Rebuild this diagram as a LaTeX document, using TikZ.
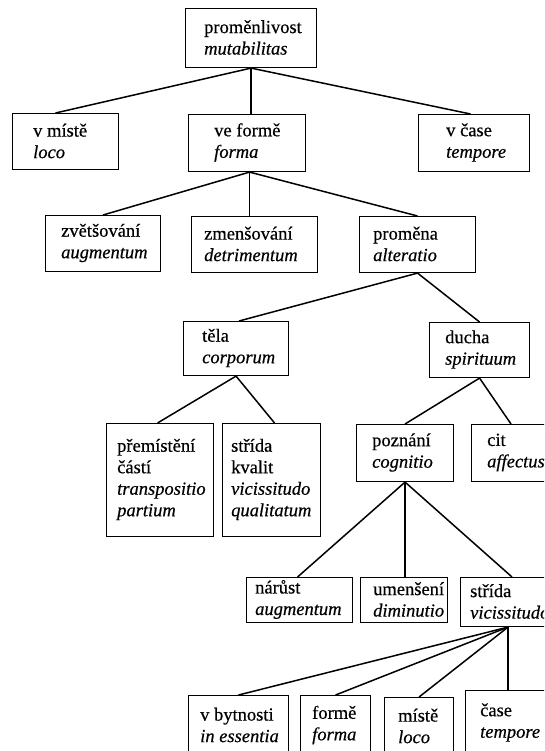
\documentclass[tikz,border=0pt]{standalone}
\usepackage{fontspec}
\setmainfont{Liberation Serif}[FakeBold=0.5]
\usetikzlibrary{calc}
\tikzset{
  bx/.style={draw, line width=1.1pt, anchor=north west, inner sep=0pt},
  txt/.style={anchor=west, align=left, inner sep=0pt, font=\fontsize{18.5}{21.5}\selectfont},
  con/.style={line width=1.5pt},
}
\begin{document}
\begin{tikzpicture}[x=1pt,y=-1pt]
\useasboundingbox (0,0) rectangle (544,751);
\clip (0,0) rectangle (544,751);
% boxes
\node[bx, minimum width=131pt, minimum height=59pt] (top) at (185,8) {};
\node[txt] (topt) at (204,37.5) {proměnlivost\\\textit{mutabilitas}};
\node[bx, minimum width=106pt, minimum height=56pt] (loco) at (12,113) {};
\node[txt] (locot) at (33,141) {v místě\\\textit{loco}};
\node[bx, minimum width=117pt, minimum height=57pt] (forma) at (188,114) {};
\node[txt] (format) at (214,142.5) {ve formě\\\textit{forma}};
\node[bx, minimum width=111pt, minimum height=57pt] (tempore) at (418,114) {};
\node[txt] (temporet) at (446,142.5) {v čase\\\textit{tempore}};
\node[bx, minimum width=115pt, minimum height=56pt] (augm) at (45,215) {};
\node[txt] (augmt) at (61,243) {zvětšování\\\textit{augmentum}};
\node[bx, minimum width=126pt, minimum height=56pt] (detr) at (191,216) {};
\node[txt] (detrt) at (204,244) {zmenšování\\\textit{detrimentum}};
\node[bx, minimum width=116pt, minimum height=56pt] (alter) at (359,216) {};
\node[txt] (altert) at (373,244) {proměna\\\textit{alteratio}};
\node[bx, minimum width=105pt, minimum height=54pt] (tela) at (183,321) {};
\node[txt] (telat) at (202,348) {těla\\\textit{corporum}};
\node[bx, minimum width=100pt, minimum height=55pt] (ducha) at (429,322) {};
\node[txt] (duchat) at (445,349.5) {ducha\\\textit{spirituum}};
\node[bx, minimum width=107pt, minimum height=113pt] (transp) at (106,423) {};
\node[txt] (transpt) at (117,479.5) {přemístění\\částí\\\textit{transpositio}\\\textit{partium}};
\node[bx, minimum width=98pt, minimum height=113pt] (qual) at (222,423) {};
\node[txt] (qualt) at (231,479.5) {střída\\kvalit\\\textit{vicissitudo}\\\textit{qualitatum}};
\node[bx, minimum width=97pt, minimum height=57pt] (cogn) at (356,424) {};
\node[txt] (cognt) at (372,452.5) {poznání\\\textit{cognitio}};
\node[bx, minimum width=90pt, minimum height=57pt] (affect) at (471,424) {};
\node[txt] (affectt) at (487,452.5) {cit\\\textit{affectus}};
\node[bx, minimum width=106pt, minimum height=45pt] (narust) at (246,577) {};
\node[txt] (narustt) at (255,599.5) {nárůst\\\textit{augmentum}};
\node[bx, minimum width=87pt, minimum height=45pt] (umens) at (360,577) {};
\node[txt] (umenst) at (373,599.5) {umenšení\\\textit{diminutio}};
\node[bx, minimum width=100pt, minimum height=49pt] (vicis) at (460,577) {};
\node[txt] (vicist) at (470,601.5) {střída\\\textit{vicissitudo}};
\node[bx, minimum width=100pt, minimum height=60pt] (essent) at (188,695) {};
\node[txt] (essentt) at (200,725) {v bytnosti\\\textit{in essentia}};
\node[bx, minimum width=70pt, minimum height=60pt] (forme) at (300,695) {};
\node[txt] (formet) at (312,725) {formě\\\textit{forma}};
\node[bx, minimum width=69pt, minimum height=58pt] (miste) at (384,697) {};
\node[txt] (mistet) at (398,726) {místě\\\textit{loco}};
\node[bx, minimum width=95pt, minimum height=65pt] (case) at (465,690) {};
\node[txt] (caset) at (480,722.5) {čase\\\textit{tempore}};
% connectors
\draw[con] (top.south) -- ([xshift=-10pt]loco.north);
\draw[con] (top.south) -- (top.south |- forma.north);
\draw[con] (top.south) -- ([xshift=-3.5pt]tempore.north);
\coordinate (fb) at ([xshift=2.5pt]forma.south);
\draw[con] (fb) -- (augm.north);
\draw[con] (fb) -- (fb |- detr.north);
\draw[con] (fb) -- (alter.north);
\draw[con] (alter.south) -- ([xshift=3pt]tela.north);
\draw[con] (alter.south) -- (ducha.north);
\draw[con] (tela.south) -- ([xshift=-2.5pt]transp.north);
\draw[con] (tela.south) -- ([xshift=3pt]qual.north);
\draw[con] (ducha.south) -- (cogn.north);
\draw[con] (ducha.south) -- ([xshift=40pt]affect.north west);
\coordinate (cb) at (cogn.south);
\draw[con] (cb) -- ([xshift=-2pt]narust.north);
\draw[con] (cb) -- (cb |- umens.north);
\draw[con] (cb) -- ([xshift=52pt]vicis.north west);
\coordinate (vb) at ([xshift=48pt]vicis.south west);
\draw[con] (vb) -- (essent.north);
\draw[con] (vb) -- (forme.north);
\draw[con] (vb) -- (miste.north);
\draw[con] (vb) -- (vb |- case.north);
\end{tikzpicture}
\end{document}
